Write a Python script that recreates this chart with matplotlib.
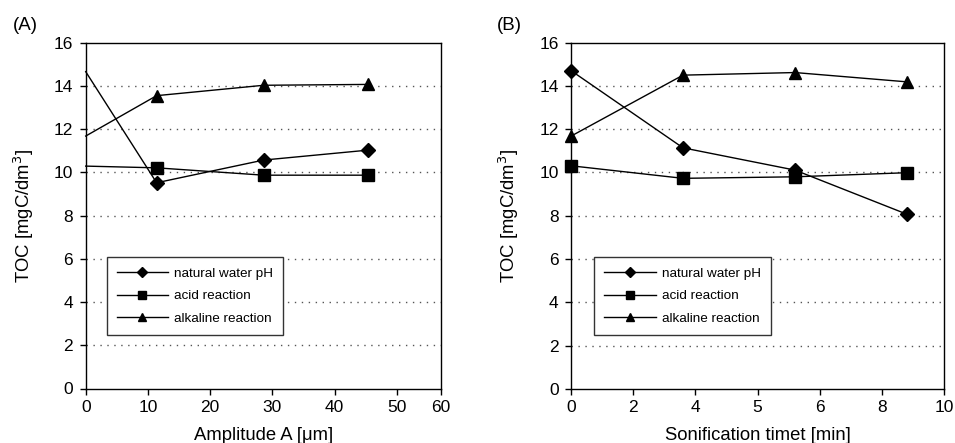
import matplotlib
matplotlib.use("Agg")
import matplotlib.pyplot as plt

plt.rcParams['font.family'] = ['Liberation Sans', 'DejaVu Sans']

series_names = ["natural water pH", "acid reaction", "alkaline reaction"]
markers = ["D", "s", "^"]

# Panel A: amplitude
amp_x = [0, 11.4, 28.6, 45.4]
amp_natural = [14.66, 9.52, 10.57, 11.03]
amp_acid = [10.29, 10.21, 9.87, 9.87]
amp_alkaline = [11.68, 13.55, 14.03, 14.07]
amp_ticks = [0, 10, 20, 30, 40, 50, 57.1]
amp_ticklabels = ["0", "10", "20", "30", "40", "50", "60"]

# Panel B: sonification time (axis as drawn in the original)
time_x = [0, 3.6, 7.2, 10.8]
time_natural = [14.71, 11.14, 10.11, 8.07]
time_acid = [10.31, 9.73, 9.80, 9.99]
time_alkaline = [11.68, 14.50, 14.62, 14.19]
time_ticks = [0, 2, 4, 6, 8, 10, 12]
time_ticklabels = ["0", "2", "4", "5", "6", "8", "10"]

y_ticks = [0, 2, 4, 6, 8, 10, 12, 14, 16]

fig = plt.figure(figsize=(9.55, 4.43), dpi=100)
axA = fig.add_axes([85.7/955, (443-388.5)/443, 355.3/955, 345.8/443])
axB = fig.add_axes([571/955, (443-388.8)/443, 373.3/955, 346.1/443])

msz = {"D": 7, "s": 8, "^": 8.5}

def draw(ax, x, ys, xlim, ticks, labels, xlabel, panel, panel_x, markevery, legend_bbox):
    for y, m, name in zip(ys, markers, series_names):
        ax.plot(x, y, color="black", lw=1.0, marker=m, markersize=msz[m],
                markevery=markevery, label=name, clip_on=False, zorder=3)
    ax.set_xlim(*xlim)
    ax.set_ylim(0, 16)
    ax.set_xticks(ticks)
    ax.set_xticklabels(labels)
    ax.set_yticks(y_ticks)
    for yy in y_ticks[1:-1]:
        ax.axhline(yy, color="#555555", lw=1.0, ls=(0, (1, 4)), zorder=1)
    ax.tick_params(direction="out", length=4, width=1, labelsize=12.5)
    ax.tick_params(axis="y", pad=5)
    ax.tick_params(axis="x", pad=4)
    for s in ax.spines.values():
        s.set_linewidth(1.0)
        s.set_color("black")
    ax.set_xlabel(xlabel, fontsize=13.3, labelpad=9)
    ax.set_ylabel("TOC [mgC/dm$^3$]", fontsize=13.3, labelpad=13)
    ax.text(panel_x, 1.037, panel, transform=ax.transAxes, fontsize=13.5,
            ha="left", va="baseline")
    leg = ax.legend(loc="lower left", bbox_to_anchor=legend_bbox,
                    fontsize=9.7, frameon=True, fancybox=False, framealpha=1,
                    edgecolor="#333333", handlelength=3.8, handletextpad=0.45,
                    labelspacing=0.75, borderpad=0.75, markerscale=0.75,
                    borderaxespad=0)
    leg.get_frame().set_linewidth(1.0)
    leg.set_zorder(5)

draw(axA, amp_x, [amp_natural, amp_acid, amp_alkaline], (0, 57.1), amp_ticks,
     amp_ticklabels, "Amplitude A [\u03bcm]", "(A)", -0.205, [1, 2, 3],
     ((106.7-85.7)/355.3, (388.5-335)/345.8))
draw(axB, time_x, [time_natural, time_acid, time_alkaline], (0, 12), time_ticks,
     time_ticklabels, "Sonification timet [min]", "(B)", -0.199, None,
     ((594.3-571)/373.3, (388.8-335)/346.1))

fig.savefig("out.png", dpi=100)
